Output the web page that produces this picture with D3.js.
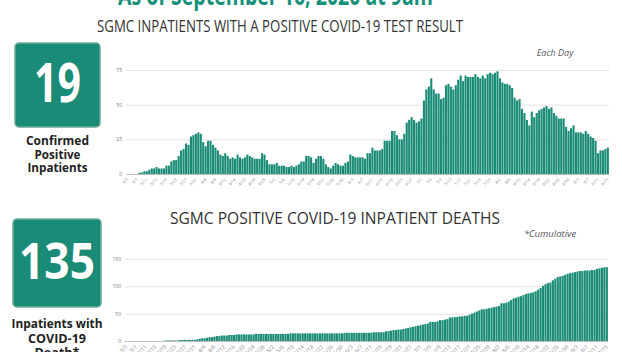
<!DOCTYPE html>
<html><head><meta charset="utf-8">
<script src="https://cdn.jsdelivr.net/npm/d3@7"></script>
<style>body{margin:0;background:#fff}svg{display:block}</style>
</head><body><svg id="c" width="622" height="352"></svg>
<script>
// ---- data ----
const inpatients = [
0,0,0,0,0, 1,1,2,2,3, 4,4,5,4,4, 4,6,6,9,10, 10,13,17,18,22, 21,27,28,29,30,
29,23,20,24,24, 21,19,17,14,13, 15,13,11,12,11, 14,12,11,12,14, 13,12,11,11,11,
15,14,10,7,7, 7,8,6,6,6, 5,5,6,5,6, 7,9,9,13,13, 12,8,11,13,13, 11,7,5,4,6,
8,7,6,6,8, 9,14,13,12,12, 12,12,11,15,15, 19,17,17,17,18, 24,24,24,31,31,
28,25,25,29,37, 39,41,39,37,38, 40,53,61,63,69, 61,58,58,54,55, 64,65,63,61,64,
68,71,67,71,70, 70,70,72,70,69, 71,69,72,73,72, 73,74,69,66,65, 65,64,62,55,53,
54,47,44,39,35, 45,41,44,46,47, 48,49,47,48,44, 42,40,40,40,34, 31,33,35,30,30,
30,29,31,29,27, 26,24,15,17,17, 18,19];
const deaths = [
0,0,0,0,0,0,0,0,0,0,0,0,0,0,0,0,
1,1,1,1,1,1, 2,2,2,2,2,2,2,
3,4,5,5,6,7,7,8,9,9,10,10,10,11,11,11,12,12,
12,12,12,12,12,12,
13,13,13,13,13,13,13,13,13,13,13,13,13,13,
14,14,14,14,14,14,14,14,14,14,14,14,14,14,14,14,14,14,14,14,14,14,
15,15,15,15,15,15,15,15,15,15,15,15,
16,16,16,16,16,
18,18,19,20,20,21,21,22,23,24,25,26,27,28,29,30,31,32,35,35,35,36,38,38,39,
40,43,43,44,44,45,45,46,46,48,50,52,54,56,58,58,59,60,61,62,63,64,69,69,70,
72,75,78,79,81,82,84,86,87,88,89,91,94,97,101,104,106,107,111,114,117,118,119,121,123,
124,125,126,127,128,128,129,129,129,130,130,132,133,134,135,135];
const yTicksTop = [0,25,50,75];
const yTicksBottom = [0,50,100,150];
const firstDay = new Date(2020,2,3), dayAfterLast = new Date(2020,8,16);
const categories = d3.timeDay.range(firstDay, dayAfterLast).map(d3.timeFormat("%-m/%-d"));
const tickEvery = 4;
const tickLabels = categories.filter((d,i)=>i%tickEvery===0);
const titleText = "As of September 16, 2020 at 9am";
const title1 = "SGMC INPATIENTS WITH A POSITIVE COVID-19 TEST RESULT";
const title2 = "SGMC POSITIVE COVID-19 INPATIENT DEATHS";
const note1 = "Each Day", note2 = "*Cumulative";
const box1Value = "19", box1Label = ["Confirmed","Positive","Inpatients"];
const box2Value = "135", box2Label = ["Inpatients with","COVID-19","Death*"];

// ---- drawing ----
const svg = d3.select("#c");
const teal = "#1a8b76";
const headFont = "'Open Sans', 'DejaVu Sans', sans-serif";

svg.append("text").attr("x",118).attr("y",5).attr("textLength",315).attr("lengthAdjust","spacingAndGlyphs")
  .attr("font-family",headFont).attr("font-weight",700).attr("font-size",27).attr("fill","#17907a").text(titleText);

function chart(values, o){
  const g = svg.append("g");
  const x = d3.scaleBand().domain(categories).range([o.x0,o.x1]).paddingInner(0.14).paddingOuter(0.05);
  const y = d3.scaleLinear().domain([0,o.max]).range([o.yBase,o.yTop]);
  const ya = g.append("g").attr("transform",`translate(${o.x0},0)`)
    .call(d3.axisLeft(y).tickValues(o.ticks).tickSize(-(o.x1-o.x0)).tickPadding(4));
  ya.select(".domain").remove();
  ya.selectAll(".tick line").attr("stroke","#e3e3e3").attr("stroke-width",1);
  ya.selectAll(".tick text").attr("fill","#777").attr("font-size",o.yFont).attr("font-family",headFont);
  g.selectAll("rect.bar").data(values).join("rect").attr("class","bar")
    .attr("x",(d,i)=>x(categories[i])).attr("width",x.bandwidth())
    .attr("y",d=>y(d)).attr("height",d=>o.yBase-y(d)).attr("fill",teal);
  g.append("line").attr("x1",o.x0).attr("x2",o.x1).attr("y1",o.yBase+0.5).attr("y2",o.yBase+0.5)
    .attr("stroke","#bdbdbd").attr("stroke-width",1);
  const xa = g.append("g").attr("transform",`translate(0,${o.yBase+o.xGap})`)
    .call(d3.axisBottom(x).tickValues(tickLabels).tickSize(0).tickPadding(0));
  xa.select(".domain").remove();
  xa.selectAll(".tick text").attr("fill","#888").attr("font-size",o.xFont).attr("font-family",headFont)
    .attr("text-anchor","end").attr("dy","0.35em").attr("transform","rotate(-45)");
  return g;
}

chart(inpatients,{x0:126,x1:609,yBase:174,yTop:70,max:75,ticks:yTicksTop,yFont:5,xFont:4,xGap:5});
chart(deaths,{x0:125,x1:608,yBase:341,yTop:259,max:150,ticks:yTicksBottom,yFont:5,xFont:5.5,xGap:5});

svg.append("text").attr("x",97).attr("y",31.5).attr("textLength",366).attr("lengthAdjust","spacingAndGlyphs")
  .attr("font-family",headFont).attr("font-size",15.5).attr("fill","#333").text(title1);
svg.append("text").attr("x",170).attr("y",224).attr("textLength",330).attr("lengthAdjust","spacingAndGlyphs")
  .attr("font-family",headFont).attr("font-size",16.5).attr("fill","#333").text(title2);
svg.append("text").attr("x",555).attr("y",56).attr("text-anchor","middle")
  .attr("font-family",headFont).attr("font-style","italic").attr("font-size",9).attr("fill","#555").text(note1);
svg.append("text").attr("x",550).attr("y",237).attr("text-anchor","middle")
  .attr("font-family",headFont).attr("font-style","italic").attr("font-size",9.5).attr("fill","#555").text(note2);

function box(bx,by,bw,bh,val,valLen,valSize,valBase,labels,lblSize,lblBase,lblStep,lblLens){
  svg.append("rect").attr("x",bx).attr("y",by).attr("width",bw).attr("height",bh).attr("rx",4)
    .attr("fill",teal).attr("stroke","#6aaa9b").attr("stroke-width",1.5);
  svg.append("text").attr("x",bx+bw/2).attr("y",valBase).attr("text-anchor","middle")
    .attr("textLength",valLen).attr("lengthAdjust","spacingAndGlyphs")
    .attr("font-family",headFont).attr("font-weight",700).attr("font-size",valSize).attr("fill","#fff").text(val);
  labels.forEach((t,i)=>{
    svg.append("text").attr("x",bx+bw/2).attr("y",lblBase+i*lblStep).attr("text-anchor","middle")
      .attr("textLength",lblLens[i]).attr("lengthAdjust","spacingAndGlyphs")
      .attr("font-family",headFont).attr("font-weight",700).attr("font-size",lblSize).attr("fill","#222").text(t);
  });
}
box(15,43,85,84,box1Value,47,54,102,box1Label,11.5,145,13.5,[63,46,60]);
box(13,219,88,88,box2Value,76,50,279,box2Label,13,328,14.5,[91,58,45]);
</script></body></html>
